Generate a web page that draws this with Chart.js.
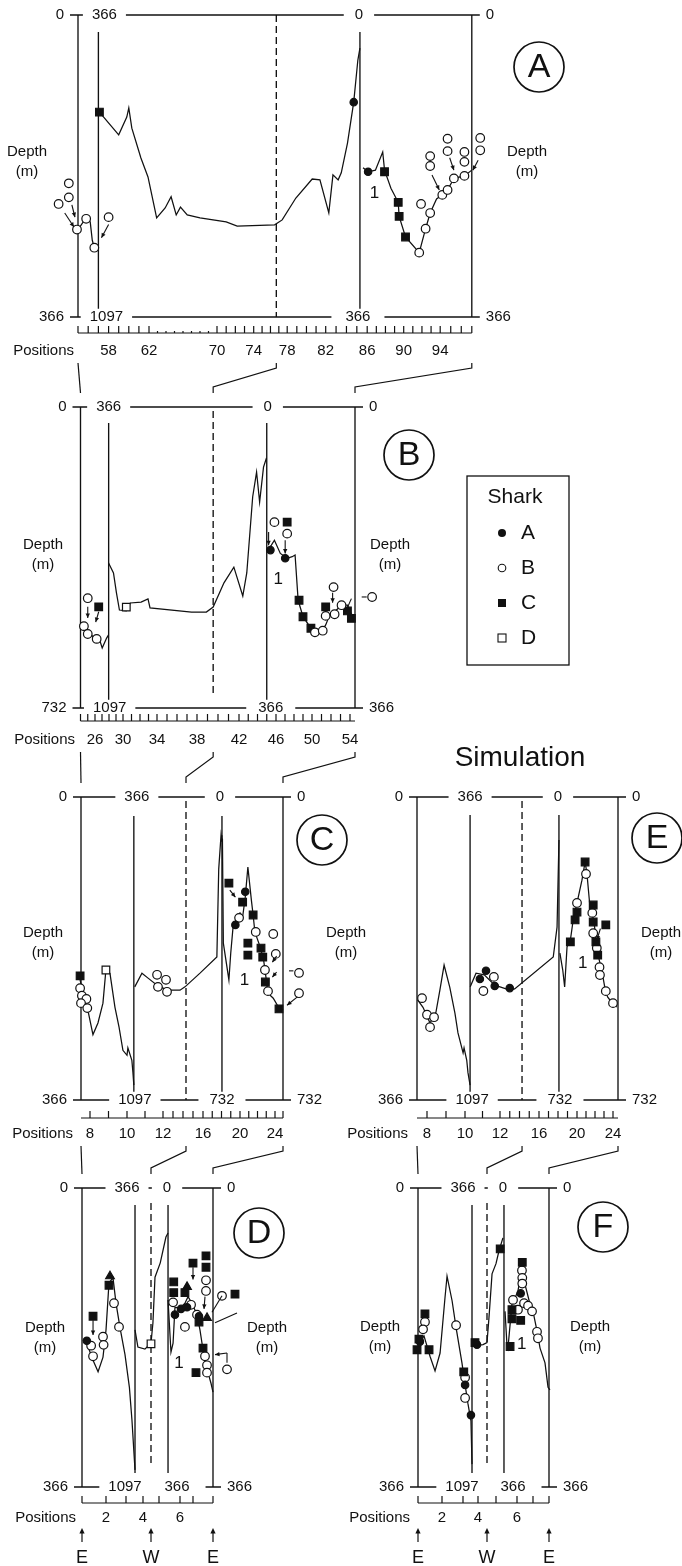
<!DOCTYPE html>
<html>
<head>
<meta charset="utf-8">
<title>Shark depth profiles</title>
<script src="https://cdn.jsdelivr.net/npm/chart.js@4.4.1/dist/chart.umd.min.js"></script>
<style>
  html, body { margin: 0; padding: 0; background: #fff; }
  #page { position: relative; width: 682px; height: 1566px; overflow: hidden; background: #fff; }
  #page canvas { position: absolute; left: 0; top: 0; }
</style>
</head>
<body>
<div id="page">
  <canvas id="chartA" width="682" height="1566"></canvas>
  <canvas id="chartB" width="682" height="1566"></canvas>
  <canvas id="chartC" width="682" height="1566"></canvas>
  <canvas id="chartD" width="682" height="1566"></canvas>
  <canvas id="chartE" width="682" height="1566"></canvas>
  <canvas id="chartF" width="682" height="1566"></canvas>
</div>
<script>
// points are [position, depth (m)]; marks are [position, depth, segment, shark]
// segment L / M / R = left, middle, right depth scale of the panel

// ---- panel A ----
const aLabels = [58, 62, 70, 74, 78, 82, 86, 90, 94];
const aLineL = [[55, 260], [55.5, 251], [55.9, 246], [56.2, 251], [56.4, 273], [56.6, 282], [57, 285]];
const aLineM = [[57.1, 601], [59, 656], [59.8, 613], [60, 591], [60.3, 640], [61.2, 712], [61.9, 758], [62.9, 857],
  [63.9, 833], [64.6, 806], [65.2, 850], [65.7, 831], [66.5, 850], [68, 857], [71, 867], [72.2, 877], [76.5, 874],
  [77.4, 862], [78.9, 809], [80.6, 763], [81.4, 765], [82.3, 845], [82.7, 753], [83.2, 765], [83.5, 748],
  [84.1, 676], [84.7, 577], [85.1, 475], [85.3, 446]];
const aLineR = [[85.6, 185], [86.1, 190], [86.9, 188], [87.7, 166], [87.9, 188], [88.6, 210], [89.4, 227],
  [89.5, 244], [90.2, 269], [91.7, 288], [92.4, 259], [92.9, 240], [93.6, 223], [94.2, 218], [94.7, 212],
  [95.3, 198], [96.3, 195], [97, 188]];
const aMarks = [
  [54.9, 260, 'L', 'B'], [55.8, 247, 'L', 'B'], [56.6, 282, 'L', 'B'], [54.1, 204, 'L', 'B'], [54.1, 221, 'L', 'B'],
  [53.1, 229, 'L', 'B'], [58, 245, 'L', 'B'],
  [57.1, 601, 'M', 'C'], [84.7, 577, 'M', 'A'],
  [86.1, 190, 'R', 'A'], [87.9, 190, 'R', 'C'], [89.4, 227, 'R', 'C'], [89.5, 244, 'R', 'C'], [90.2, 269, 'R', 'C'],
  [91.7, 288, 'R', 'B'], [92.4, 259, 'R', 'B'], [92.9, 240, 'R', 'B'], [94.2, 218, 'R', 'B'], [94.7, 212, 'R', 'B'],
  [95.3, 198, 'R', 'B'], [96.3, 195, 'R', 'B'], [91.9, 229, 'R', 'B'], [92.9, 171, 'R', 'B'], [92.9, 183, 'R', 'B'],
  [94.7, 150, 'R', 'B'], [94.7, 165, 'R', 'B'], [96.3, 166, 'R', 'B'], [96.3, 178, 'R', 'B'], [97.8, 149, 'R', 'B'],
  [97.8, 164, 'R', 'B']
];
const aArrows = [[53.7, 240, 54.6, 257, 'L', 1], [54.4, 230, 54.7, 245, 'L', 1], [58, 254, 57.3, 270, 'L', 1],
  [93.1, 194, 93.9, 212, 'R', 1], [94.9, 173, 95.3, 188, 'R', 1], [97.6, 176, 97.1, 188, 'R', 1]];

// ---- panel B ----
const bLabels = [26, 30, 34, 38, 42, 46, 50, 54];
const bLineL = [[24, 535], [24.9, 550], [25.85, 559], [26.67, 567], [27.03, 586], [27.66, 562], [27.94, 554]];
const bLineM = [[27.94, 745], [28.64, 769], [29.07, 818], [29.49, 859], [30.39, 861], [30.86, 842], [32.13, 840],
  [32.94, 832], [33.18, 854], [37.45, 864], [38.89, 864], [39.54, 852], [40.57, 793], [41.51, 755], [42.41, 825],
  [42.84, 769], [43.48, 584], [43.9, 524], [44.23, 597], [44.65, 512], [44.97, 490]];
const bLineR = [[45.08, 174], [45.5, 168], [45.83, 162], [46.48, 178], [47.24, 184], [47.8, 182], [48.12, 180],
  [48.46, 235], [49, 255], [49.88, 269], [50.31, 274], [51.13, 271], [51.44, 265], [51.86, 253], [52.38, 249],
  [53.11, 241], [53.73, 241], [54.02, 249], [54.33, 255]];
const bMarks = [
  [24.47, 533, 'L', 'B'], [25, 552, 'L', 'B'], [26.24, 564, 'L', 'B'], [25, 465, 'L', 'B'], [26.53, 486, 'L', 'C'],
  [30.39, 852, 'M', 'D'],
  [45.4, 174, 'R', 'A'], [47.02, 184, 'R', 'A'],
  [45.83, 140, 'R', 'B'], [47.24, 154, 'R', 'B'], [50.31, 274, 'R', 'B'], [51.13, 272, 'R', 'B'], [51.44, 254, 'R', 'B'],
  [52.38, 252, 'R', 'B'], [53.11, 241, 'R', 'B'], [52.27, 219, 'R', 'B'], [56.21, 231, 'R', 'B'],
  [47.24, 140, 'R', 'C'], [48.56, 235, 'R', 'C'], [49, 255, 'R', 'C'], [49.88, 269, 'R', 'C'], [51.44, 243, 'R', 'C'],
  [53.73, 248, 'R', 'C'], [54.14, 257, 'R', 'C']
];
const bArrows = [[25, 486, 25, 513, 'L', 1], [26.53, 498, 26.1, 523, 'L', 1], [45.2, 152, 45.2, 168, 'R', 1],
  [47.02, 162, 47.02, 178, 'R', 1], [52.17, 226, 52.17, 238, 'R', 1], [54.14, 233, 53.53, 249, 'R', 1],
  [55.17, 231, 55.67, 231, 'R', 0]];

// ---- panel C ----
const cLabels = [8, 10, 12, 16, 20, 24];
const cLineL = [[7.45, 221], [7.6, 237], [7.8, 249], [8.16, 287], [8.43, 273], [8.7, 249], [8.86, 209], [9.08, 213],
  [9.35, 254], [9.57, 278], [9.78, 306], [10, 312], [10.05, 303], [10.27, 318], [10.33, 333], [10.38, 348]];
const cLineM = [[10.43, 824], [10.83, 791], [11.17, 803], [11.67, 820], [12.4, 832], [13.7, 832], [14.2, 824],
  [15.7, 791], [17.5, 752], [17.7, 540], [17.95, 458], [18.05, 474]];
const cLineR = [[18.1, 100], [18.2, 353], [18.8, 442], [19, 377], [19.25, 314], [19.7, 290], [20, 280], [20.3, 290],
  [20.6, 242], [20.9, 169], [21.3, 249], [21.5, 285], [21.7, 326], [22.3, 362], [22.7, 394], [22.9, 425],
  [23.2, 474], [23.8, 486], [24.5, 510], [25, 515]];
const cMarks = [
  [7.45, 216, 'L', 'C'], [7.45, 231, 'L', 'B'], [7.55, 240, 'L', 'B'], [7.8, 244, 'L', 'B'], [7.5, 249, 'L', 'B'],
  [7.85, 255, 'L', 'B'], [8.86, 209, 'L', 'D'],
  [11.67, 795, 'M', 'B'], [12.3, 807, 'M', 'B'], [11.72, 824, 'M', 'B'], [12.4, 836, 'M', 'B'],
  [18.8, 208, 'R', 'C'], [20.3, 254, 'R', 'C'], [21.5, 285, 'R', 'C'], [20.9, 353, 'R', 'C'], [20.9, 382, 'R', 'C'],
  [22.4, 365, 'R', 'C'], [22.6, 387, 'R', 'C'], [22.9, 447, 'R', 'C'], [24.5, 512, 'R', 'C'],
  [20.6, 229, 'R', 'A'], [19.5, 309, 'R', 'A'],
  [19.9, 292, 'R', 'B'], [21.8, 326, 'R', 'B'], [23.8, 331, 'R', 'B'], [24.1, 379, 'R', 'B'], [22.85, 418, 'R', 'B'],
  [23.2, 469, 'R', 'B'], [27, 425, 'R', 'B'], [27, 474, 'R', 'B']
];
const cArrows = [[18.9, 225, 19.5, 242, 'R', 1], [24.2, 384, 23.7, 399, 'R', 1], [24.2, 423, 23.7, 435, 'R', 1],
  [25.75, 420, 26.3, 420, 'R', 0], [26.8, 483, 25.5, 503, 'R', 1]];

// ---- panel D ----
const dLabels = [2, 4, 6];
const dLineL = [[1.04, 186], [1.2, 190], [1.46, 211], [1.67, 225], [1.875, 207], [2, 174], [2.15, 116], [2.35, 110],
  [2.5, 141], [2.7, 171], [2.95, 204], [3.2, 244], [3.35, 284], [3.53, 345]];
const dLineM = [[3.53, 713], [3.7, 755], [4.12, 760], [4.5, 745], [4.62, 696], [4.75, 584], [5.06, 549], [5.33, 486],
  [5.43, 476]];
const dLineR = [[5.43, 137], [5.57, 201], [5.67, 190], [5.76, 146], [6, 147], [6.38, 141], [6.62, 133], [6.92, 141],
  [7.2, 155], [7.35, 174], [7.5, 198], [7.6, 214], [7.75, 226], [7.9, 239], [8, 250]];
const dMarks = [
  [1.2, 187, 'L', 'A'], [1.46, 157, 'L', 'C'], [2.15, 119, 'L', 'C'], [2.2, 108, 'L', 'T'],
  [1.38, 193, 'L', 'B'], [1.46, 206, 'L', 'B'], [1.875, 182, 'L', 'B'], [1.9, 192, 'L', 'B'], [2.4, 141, 'L', 'B'],
  [2.65, 170, 'L', 'B'],
  [4.5, 747, 'M', 'D'],
  [5.7, 115, 'R', 'C'], [5.7, 128, 'R', 'C'], [7, 92, 'R', 'C'], [6.38, 128, 'R', 'C'], [7.65, 83, 'R', 'C'],
  [7.65, 97, 'R', 'C'], [9.1, 130, 'R', 'C'], [7.3, 164, 'R', 'C'], [7.5, 196, 'R', 'C'], [7.15, 226, 'R', 'C'],
  [5.76, 155, 'R', 'A'], [6.08, 148, 'R', 'A'], [6.54, 146, 'R', 'A'], [7.3, 157, 'R', 'A'],
  [5.67, 140, 'R', 'B'], [6.38, 170, 'R', 'B'], [6.85, 143, 'R', 'B'], [7.2, 155, 'R', 'B'], [7.65, 113, 'R', 'B'],
  [7.65, 126, 'R', 'B'], [8.45, 132, 'R', 'B'], [7.6, 206, 'R', 'B'], [7.7, 217, 'R', 'B'], [7.7, 226, 'R', 'B'],
  [8.7, 222, 'R', 'B'],
  [6.54, 121, 'R', 'T'], [7.7, 159, 'R', 'T']
];
const dArrows = [[1.46, 162, 1.46, 180, 'L', 1], [7, 97, 7, 112, 'R', 1], [7.6, 133, 7.55, 148, 'R', 1],
  [8.45, 132, 7.95, 152, 'R', 0], [9.2, 153, 8.1, 165, 'R', 0], [8.7, 214, 8.7, 202, 'R', 0],
  [8.7, 202, 8.1, 204, 'R', 1]];

// ---- panel E (simulation) ----
const eLabels = [8, 10, 12, 16, 20, 24];
const eLineL = [[7.53, 245], [7.8, 254], [8.16, 273], [8.47, 260], [8.68, 233], [8.9, 203], [9.2, 230], [9.47, 261],
  [9.63, 285], [9.9, 309], [9.95, 303], [10.1, 318], [10.17, 333], [10.29, 348]];
const eLineM = [[10.3, 824], [10.63, 791], [11.1, 795], [11.7, 820], [13, 832], [13.5, 829], [17.5, 752],
  [17.9, 680], [18.1, 470]];
const eLineR = [[18.2, 377], [18.5, 418], [18.7, 459], [18.95, 362], [19.3, 346], [19.6, 297], [20, 256],
  [20.55, 201], [20.9, 157], [21.1, 184], [21.4, 256], [21.9, 302], [22.1, 346], [22.4, 387], [22.8, 425],
  [23.1, 461], [23.4, 483], [24.1, 503], [24.45, 507]];
const eMarks = [
  [7.75, 243, 'L', 'B'], [8, 263, 'L', 'B'], [8.16, 278, 'L', 'B'], [8.37, 266, 'L', 'B'],
  [11.2, 785, 'M', 'A'], [10.85, 805, 'M', 'A'], [11.7, 822, 'M', 'A'], [13, 827, 'M', 'A'],
  [11.65, 800, 'M', 'B'], [11.05, 834, 'M', 'B'],
  [20.9, 157, 'R', 'C'], [19.3, 350, 'R', 'C'], [19.8, 297, 'R', 'C'], [20, 278, 'R', 'C'], [21.8, 261, 'R', 'C'],
  [21.8, 302, 'R', 'C'], [22.1, 350, 'R', 'C'], [23.2, 309, 'R', 'C'], [22.3, 382, 'R', 'C'],
  [21, 186, 'R', 'B'], [20, 256, 'R', 'B'], [21.7, 280, 'R', 'B'], [21.8, 329, 'R', 'B'], [22.2, 365, 'R', 'B'],
  [22.5, 411, 'R', 'B'], [22.55, 430, 'R', 'B'], [23.2, 469, 'R', 'B'], [24, 498, 'R', 'B']
];
const eArrows = [[22.6, 318, 22.2, 346, 'R', 1]];

// ---- panel F (simulation) ----
const fLabels = [2, 4, 6];
const fLineL = [[1.04, 190], [1.25, 181], [1.5, 206], [1.71, 224], [1.92, 202], [2.14, 135], [2.24, 108], [2.48, 138],
  [2.67, 171], [2.95, 214], [3.1, 236], [3.33, 264], [3.53, 285], [3.6, 338]];
const fLineM = [[3.6, 746], [3.73, 746], [3.93, 751], [4.28, 749], [4.5, 744], [4.61, 683], [4.78, 576], [5, 551],
  [5.14, 520], [5.33, 488]];
const fLineR = [[5.43, 151], [5.52, 191], [5.57, 196], [5.76, 142], [5.9, 135], [6.06, 126], [6.31, 98], [6.5, 118],
  [6.81, 142], [7, 151], [7.25, 175], [7.44, 196], [7.75, 214], [7.94, 244], [8.06, 247]];
const fMarks = [
  [1.29, 154, 'L', 'C'], [1.04, 185, 'L', 'C'], [0.96, 198, 'L', 'C'], [1.46, 198, 'L', 'C'], [3.05, 225, 'L', 'C'],
  [1.08, 188, 'L', 'A'], [3.14, 241, 'L', 'A'], [3.53, 278, 'L', 'A'],
  [1.29, 164, 'L', 'B'], [1.21, 173, 'L', 'B'], [2.67, 168, 'L', 'B'], [3.14, 232, 'L', 'B'], [3.14, 257, 'L', 'B'],
  [3.8, 744, 'M', 'C'], [5.2, 515, 'M', 'C'], [3.93, 749, 'M', 'A'],
  [5.76, 149, 'R', 'C'], [5.76, 160, 'R', 'C'], [6.33, 91, 'R', 'C'], [6.23, 162, 'R', 'C'], [5.67, 194, 'R', 'C'],
  [6.23, 129, 'R', 'A'],
  [6.31, 101, 'R', 'B'], [6.33, 110, 'R', 'B'], [6.33, 117, 'R', 'B'], [5.81, 137, 'R', 'B'], [6.06, 149, 'R', 'B'],
  [6.44, 141, 'R', 'B'], [6.69, 144, 'R', 'B'], [6.94, 151, 'R', 'B'], [7.25, 176, 'R', 'B'], [7.31, 184, 'R', 'B']
];
const fArrows = [];

const legendSharks = ['A', 'B', 'C', 'D'];

// ---- layout ----
const W = 682, H = 1566;
const INK = '#111';
const FONT = '"Liberation Sans", Arial, Helvetica, sans-serif';

const panels = [
  { key: 'A', box: [78, 472, 15, 317],
    knots: [[55, 78], [58, 108.6], [62, 149], [70, 217], [74, 253.7], [78, 287.2], [82, 325.7], [86, 367.2], [90, 403.7], [94, 440.2], [97, 471.8]],
    sparse: [63, 69],
    depth: { L: [0, 366], M: [366, 1097], R: [0, 366] }, splits: [57, 85.3], dash: 76.7,
    labels: aLabels, lines: [aLineL, aLineM, aLineR], marks: aMarks, arrows: aArrows,
    axisY: 333, labelY: 351, posX: 74, midDx: [6, 8], zeroDx: [-1, -2], zeroPad: [11, 14], circle: [539, 67], one: [86.8, 216],
    depthX: [27, 527], depthY: 152, vTop: 17, vBot: 0, dashTop: 0, dashBot: 0 },
  { key: 'B', from: 'A', box: [80.5, 355, 407, 708],
    knots: [[24, 80.5], [26, 95], [30, 123], [34, 157], [38, 197], [42, 239], [46, 276], [50, 312], [54, 350], [54.5, 355]],
    depth: { L: [0, 732], M: [366, 1097], R: [0, 366] }, splits: [27.95, 45], dash: 39.54,
    labels: bLabels, lines: [bLineL, bLineM, bLineR], marks: bMarks, arrows: bArrows,
    axisY: 721, labelY: 740, posX: 75, midDx: [0, 1], zeroDx: [1, 4], zeroPad: [11, 12], circle: [409, 455], one: [46.26, 210],
    depthX: [43, 390], depthY: 545, vTop: 16, vBot: 0, dashTop: 4, dashBot: 12 },
  { key: 'C', from: 'B', box: [81, 283, 797, 1100],
    knots: [[7.5, 81], [8, 90], [10, 127], [12, 163], [16, 203], [20, 240], [24, 275], [25, 283]],
    depth: { L: [0, 366], M: [366, 1097], R: [0, 732] }, splits: [10.38, 18.05], dash: 14.3,
    labels: cLabels, lines: [cLineL, cLineM, cLineR], marks: cMarks, arrows: cArrows,
    axisY: 1118, labelY: 1134, posX: 73, midDx: [3, 1], zeroDx: [-2, 0], zeroPad: [11, 11], circle: [322, 840], one: [20.5, 442],
    depthX: [43, 346], depthY: 933, vTop: 19, vBot: 0, dashTop: 4, dashBot: 0 },
  { key: 'D', from: 'C', box: [82, 213, 1188, 1487], ew: true,
    knots: [[1, 82], [2, 106], [3, 126], [4, 143], [5, 159], [6, 180], [7, 193], [8, 213]],
    depth: { L: [0, 366], M: [366, 1097], R: [0, 366] }, splits: [3.53, 5.43], dash: 4.5,
    labels: dLabels, lines: [dLineL, dLineM, dLineR], marks: dMarks, arrows: dArrows,
    axisY: 1503, labelY: 1518, posX: 76, midDx: [-8, -10], zeroDx: [-1, 9], zeroPad: [11, 16], circle: [259, 1233], one: [5.95, 214],
    depthX: [45, 267], depthY: 1328, vTop: 17, vBot: -14, dashTop: 15, dashBot: 20 },
  { key: 'E', from: null, box: [417, 618, 797, 1100],
    knots: [[7.5, 417], [8, 427], [10, 465], [12, 500], [16, 539], [20, 577], [24, 613], [24.6, 618]],
    depth: { L: [0, 366], M: [366, 1097], R: [0, 732] }, splits: [10.29, 18.1], dash: 14.26,
    labels: eLabels, lines: [eLineL, eLineM, eLineR], marks: eMarks, arrows: eArrows,
    axisY: 1118, labelY: 1134, posX: 408, midDx: [0, 2], zeroDx: [-1, 1], zeroPad: [11, 11], circle: [657, 838], one: [20.65, 401],
    depthX: [null, 661], depthY: 933, vTop: 18, vBot: 0, dashTop: 4, dashBot: 0 },
  { key: 'F', from: 'E', box: [418, 549, 1188, 1487], ew: true,
    knots: [[1, 418], [2, 442], [3, 463], [4, 478], [5, 496], [6, 517], [7, 533], [8, 549]],
    depth: { L: [0, 366], M: [366, 1097], R: [0, 366] }, splits: [3.6, 5.38], dash: 4.5,
    labels: fLabels, lines: [fLineL, fLineM, fLineR], marks: fMarks, arrows: fArrows,
    axisY: 1503, labelY: 1518, posX: 410, midDx: [-9, -10], zeroDx: [-1, 9], zeroPad: [11, 16], circle: [603, 1227], one: [6.3, 191],
    depthX: [380, 590], depthY: 1327, vTop: 17, vBot: -14, dashTop: 15, dashBot: 20 }
];

const panelOf = {};
panels.forEach(p => { panelOf['chart' + p.key] = p; });
const charts = {};

// piecewise position axis: the stations along the track are not evenly spaced
function trackPx(p, v) {
  const k = p.knots;
  let i = 0;
  while (i < k.length - 2 && v > k[i + 1][0]) i++;
  return k[i][1] + (v - k[i][0]) * (k[i + 1][1] - k[i][1]) / (k[i + 1][0] - k[i][0]);
}

class TrackScale extends Chart.LinearScale {
  getPixelForValue(value) {
    if (value === null || isNaN(value)) return NaN;
    const px = trackPx(panelOf[this.chart.canvas.id], value);
    return this.getPixelForDecimal((px - this.left) / this.width);
  }
  getValueForPixel(pixel) {
    const k = panelOf[this.chart.canvas.id].knots;
    let i = 0;
    while (i < k.length - 2 && pixel > k[i + 1][1]) i++;
    return k[i][0] + (pixel - k[i][1]) * (k[i + 1][0] - k[i][0]) / (k[i + 1][1] - k[i][1]);
  }
}
TrackScale.id = 'track';
TrackScale.defaults = Chart.LinearScale.defaults;
Chart.register(TrackScale);

const sharkStyle = {
  A: { style: 'circle', r: 3.7, fill: INK },
  B: { style: 'circle', r: 4.3, fill: '#fff' },
  C: { style: 'rect', r: 5.4, fill: INK },
  D: { style: 'rect', r: 5.4, fill: '#fff' },
  T: { style: 'triangle', r: 5, fill: INK }
};
const segAxis = { L: 'yL', M: 'yM', R: 'yR' };

function buildDatasets(p) {
  const sets = [];
  const groups = {};
  p.marks.forEach(m => {
    const key = m[2] + m[3];
    if (!groups[key]) groups[key] = [];
    groups[key].push({ x: m[0], y: m[1] });
  });
  Object.keys(groups).forEach(key => {
    const st = sharkStyle[key[1]];
    sets.push({
      label: 'Shark ' + key[1], data: groups[key], yAxisID: segAxis[key[0]],
      pointStyle: st.style, pointRadius: st.r, pointBackgroundColor: st.fill,
      pointBorderColor: INK, pointBorderWidth: 1.2, showLine: false, clip: false, order: 0
    });
  });
  ['L', 'M', 'R'].forEach((s, i) => {
    sets.push({
      label: 'profile ' + s, data: p.lines[i].map(d => ({ x: d[0], y: d[1] })), yAxisID: segAxis[s],
      showLine: true, pointRadius: 0, borderColor: INK, borderWidth: 1.25, tension: 0, clip: false, order: 5
    });
  });
  return sets;
}

function line(ctx, pts) {
  ctx.beginPath();
  pts.forEach((q, i) => (i ? ctx.lineTo(q[0], q[1]) : ctx.moveTo(q[0], q[1])));
  ctx.stroke();
}

function label(ctx, s, x, y, size, align, pad) {
  ctx.font = size + 'px ' + FONT;
  ctx.textAlign = align || 'center';
  ctx.textBaseline = 'middle';
  if (pad) {
    const w = ctx.measureText(s).width;
    const x0 = align === 'left' ? x : align === 'right' ? x - w : x - w / 2;
    ctx.fillStyle = '#fff';
    ctx.fillRect(x0 - pad, y - size * 0.55, w + 2 * pad, size * 1.1);
  }
  ctx.fillStyle = INK;
  ctx.fillText(s, x, y);
}

function arrowHead(ctx, x1, y1, x2, y2, size) {
  const a = Math.atan2(y2 - y1, x2 - x1);
  ctx.beginPath();
  ctx.moveTo(x2, y2);
  ctx.lineTo(x2 - size * Math.cos(a - 0.45), y2 - size * Math.sin(a - 0.45));
  ctx.lineTo(x2 - size * Math.cos(a + 0.45), y2 - size * Math.sin(a + 0.45));
  ctx.closePath();
  ctx.fill();
}

function framePlugin(p) {
  return {
    id: 'frame' + p.key,
    beforeDatasetsDraw(chart) {
      const ctx = chart.ctx;
      const { top: t, bottom: b } = chart.chartArea;
      const X = v => chart.scales.x.getPixelForValue(v);
      const l = X(p.knots[0][0]), r = X(p.knots[p.knots.length - 1][0]);
      ctx.save();
      ctx.strokeStyle = INK;
      ctx.fillStyle = INK;
      ctx.lineWidth = 1.35;
      line(ctx, [[l, t], [l, b]]);
      line(ctx, [[r, t], [r, b]]);
      line(ctx, [[l - 8, t], [r + 8, t]]);
      line(ctx, [[l - 8, b], [r + 8, b]]);
      const x1 = X(p.splits[0]), x2 = X(p.splits[1]), xd = X(p.dash);
      line(ctx, [[x1, t + p.vTop], [x1, b + p.vBot]]);
      line(ctx, [[x2, t + p.vTop], [x2, b + p.vBot]]);
      ctx.setLineDash([7, 4]);
      line(ctx, [[xd, t + p.dashTop], [xd, b - p.dashBot]]);
      ctx.setLineDash([]);

      const d = p.depth;
      label(ctx, String(d.L[0]), l - 14, t, 15, 'right');
      label(ctx, String(d.M[0]), x1 + p.midDx[0], t, 15, 'center', 9);
      label(ctx, String(d.R[0]), x2 + p.zeroDx[0], t, 15, 'center', p.zeroPad[0]);
      label(ctx, String(d.R[0]), r + 14, t, 15, 'left');
      label(ctx, String(d.L[1]), l - 14, b, 15, 'right');
      label(ctx, String(d.M[1]), x1 + p.midDx[1], b, 15, 'center', 9);
      label(ctx, String(d.R[1]), x2 + p.zeroDx[1], b, 15, 'center', p.zeroPad[1]);
      label(ctx, String(d.R[1]), r + 14, b, 15, 'left');

      // positions axis
      ctx.lineWidth = 1.2;
      line(ctx, [[l, p.axisY], [r, p.axisY]]);
      const k = p.knots;
      for (let i = Math.ceil(k[0][0]); i <= Math.floor(k[k.length - 1][0]); i++) {
        const xi = X(i);
        const short = p.sparse && i >= p.sparse[0] && i <= p.sparse[1];
        line(ctx, [[xi, p.axisY], [xi, p.axisY - (short ? 2 : 7)]]);
      }
      p.labels.forEach(v => label(ctx, String(v), X(v), p.labelY, 15, 'center'));
      label(ctx, 'Positions', p.posX, p.labelY, 15, 'right');

      // depth titles
      p.depthX.forEach(dx => {
        if (dx === null) return;
        label(ctx, 'Depth', dx, p.depthY, 15, 'center');
        label(ctx, '(m)', dx, p.depthY + 20, 15, 'center');
      });

      // panel letter
      ctx.lineWidth = 1.7;
      ctx.beginPath();
      ctx.arc(p.circle[0], p.circle[1], 25, 0, Math.PI * 2);
      ctx.stroke();
      label(ctx, p.key, p.circle[0], p.circle[1] + 1, 34, 'center');

      // "1" marker in right segment
      label(ctx, '1', X(p.one[0]), chart.scales.yR.getPixelForValue(p.one[1]), 17, 'center');

      // connector lines from the panel above
      ctx.lineWidth = 1.2;
      if (p.from) {
        const up = charts[p.from], u = panelOf['chart' + p.from];
        const uX = v => up.scales.x.getPixelForValue(v);
        const ul = uX(u.knots[0][0]), ur = uX(u.knots[u.knots.length - 1][0]);
        const y0 = u.labelY + 12, y1 = t - 14;
        line(ctx, [[ul, y0], [l, y1]]);
        line(ctx, [[uX(u.dash), y0], [uX(u.dash), y0 + 5], [xd, y1 - 6], [xd, y1]]);
        line(ctx, [[ur, y0], [ur, y0 + 5], [r, y1 - 6], [r, y1]]);
      }

      // compass arrows under the bottom panels
      if (p.ew) {
        [[l, 'E'], [xd, 'W'], [r, 'E']].forEach(e => {
          line(ctx, [[e[0], 1542], [e[0], 1532]]);
          arrowHead(ctx, e[0], 1542, e[0], 1528, 6);
          label(ctx, e[1], e[0], 1558, 18, 'center');
        });
      }
      ctx.restore();
    },
    afterDatasetsDraw(chart) {
      const ctx = chart.ctx;
      const X = v => chart.scales.x.getPixelForValue(v);
      ctx.save();
      ctx.strokeStyle = INK;
      ctx.fillStyle = INK;
      ctx.lineWidth = 1.1;
      p.arrows.forEach(a => {
        const ys = chart.scales[segAxis[a[4]]];
        const xa = X(a[0]), ya = ys.getPixelForValue(a[1]);
        const xb = X(a[2]), yb = ys.getPixelForValue(a[3]);
        line(ctx, [[xa, ya], [xb, yb]]);
        if (a[5]) arrowHead(ctx, xa, ya, xb, yb, 5);
      });
      ctx.restore();
    }
  };
}

const legendPlugin = {
  id: 'sharkLegend',
  afterDraw(chart) {
    const ctx = chart.ctx;
    ctx.save();
    ctx.strokeStyle = INK;
    ctx.lineWidth = 1.3;
    ctx.strokeRect(467, 476, 102, 189);
    label(ctx, 'Shark', 515, 497, 21, 'center');
    legendSharks.forEach((s, i) => {
      const y = 533 + i * 35;
      ctx.fillStyle = INK;
      ctx.lineWidth = 1.1;
      if (s === 'A' || s === 'B') {
        ctx.beginPath();
        ctx.arc(502, y, s === 'A' ? 4 : 3.8, 0, Math.PI * 2);
        if (s === 'A') ctx.fill(); else { ctx.fillStyle = '#fff'; ctx.fill(); ctx.stroke(); }
      } else if (s === 'C') {
        ctx.fillRect(498, y - 4, 8, 8);
      } else {
        ctx.fillStyle = '#fff';
        ctx.fillRect(498, y - 4, 8, 8);
        ctx.strokeRect(498, y - 4, 8, 8);
      }
      label(ctx, s, 521, y, 21, 'left');
    });
    ctx.restore();
  }
};

const titlePlugin = {
  id: 'simTitle',
  afterDraw(chart) {
    const ctx = chart.ctx;
    ctx.save();
    label(ctx, 'Simulation', 520, 758, 28, 'center');
    ctx.restore();
  }
};

panels.forEach(p => {
  const extra = [framePlugin(p)];
  if (p.key === 'B') extra.push(legendPlugin);
  if (p.key === 'E') extra.push(titlePlugin);
  const yOpt = range => ({ type: 'linear', display: false, reverse: true, min: range[0], max: range[1] });
  const k = p.knots;
  charts[p.key] = new Chart(document.getElementById('chart' + p.key), {
    type: 'scatter',
    data: { datasets: buildDatasets(p) },
    options: {
      responsive: false,
      animation: false,
      events: [],
      // plot area spans the whole width so marks just outside a panel frame are still drawn;
      // horizontal pixels come from the station knots, vertical ones from the panel's depth scales
      layout: { padding: { left: 0, right: 0, top: p.box[2], bottom: H - p.box[3] } },
      plugins: { legend: { display: false }, tooltip: { enabled: false } },
      scales: {
        x: { type: 'track', display: false, min: k[0][0] - 10, max: k[k.length - 1][0] + 10 },
        yL: yOpt(p.depth.L),
        yM: yOpt(p.depth.M),
        yR: yOpt(p.depth.R)
      }
    },
    plugins: extra
  });
});
</script>
</body>
</html>
